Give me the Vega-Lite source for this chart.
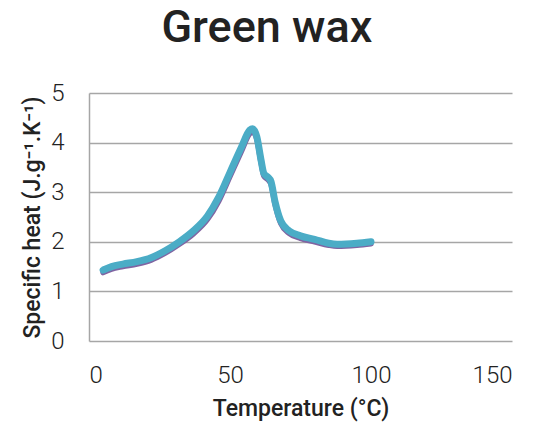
{
  "$schema": "https://vega.github.io/schema/vega-lite/v6.json",
  "width": 423,
  "height": 248,
  "autosize": "none",
  "padding": {"left": 89, "top": 93, "right": 30, "bottom": 90},
  "background": "white",
  "title": {"text": "Green wax", "font": "Roboto", "fontSize": 45, "fontWeight": 500, "color": "#222222", "anchor": "middle", "frame": "bounds", "offset": 30},
  "datasets": {
    "pts": [
      {"t": 5, "cp": 1.43, "s": "a"}, {"t": 8, "cp": 1.50, "s": "a"}, {"t": 12, "cp": 1.55, "s": "a"}, {"t": 17, "cp": 1.60, "s": "a"}, {"t": 22, "cp": 1.68, "s": "a"}, {"t": 27, "cp": 1.82, "s": "a"}, {"t": 32, "cp": 2.00, "s": "a"}, {"t": 37, "cp": 2.22, "s": "a"}, {"t": 42, "cp": 2.52, "s": "a"}, {"t": 46, "cp": 2.90, "s": "a"}, {"t": 50, "cp": 3.40, "s": "a"}, {"t": 54, "cp": 3.90, "s": "a"}, {"t": 57, "cp": 4.25, "s": "a"}, {"t": 58, "cp": 4.28, "s": "a"}, {"t": 59.5, "cp": 4.12, "s": "a"}, {"t": 61, "cp": 3.65, "s": "a"}, {"t": 62, "cp": 3.38, "s": "a"}, {"t": 63.5, "cp": 3.30, "s": "a"}, {"t": 64.5, "cp": 3.22, "s": "a"}, {"t": 66, "cp": 2.80, "s": "a"}, {"t": 68, "cp": 2.42, "s": "a"}, {"t": 71, "cp": 2.22, "s": "a"}, {"t": 75, "cp": 2.12, "s": "a"}, {"t": 80, "cp": 2.05, "s": "a"}, {"t": 85, "cp": 1.97, "s": "a"}, {"t": 88, "cp": 1.95, "s": "a"}, {"t": 95, "cp": 1.97, "s": "a"}, {"t": 100, "cp": 2.00, "s": "a"},
      {"t": 5, "cp": 1.38, "s": "b"}, {"t": 8, "cp": 1.45, "s": "b"}, {"t": 12, "cp": 1.50, "s": "b"}, {"t": 17, "cp": 1.55, "s": "b"}, {"t": 22, "cp": 1.63, "s": "b"}, {"t": 27, "cp": 1.77, "s": "b"}, {"t": 32, "cp": 1.95, "s": "b"}, {"t": 37, "cp": 2.16, "s": "b"}, {"t": 42, "cp": 2.45, "s": "b"}, {"t": 46, "cp": 2.82, "s": "b"}, {"t": 50, "cp": 3.32, "s": "b"}, {"t": 54, "cp": 3.82, "s": "b"}, {"t": 57, "cp": 4.18, "s": "b"}, {"t": 58, "cp": 4.22, "s": "b"}, {"t": 59.5, "cp": 4.07, "s": "b"}, {"t": 61, "cp": 3.60, "s": "b"}, {"t": 62, "cp": 3.33, "s": "b"}, {"t": 63.5, "cp": 3.25, "s": "b"}, {"t": 64.5, "cp": 3.17, "s": "b"}, {"t": 66, "cp": 2.75, "s": "b"}, {"t": 68, "cp": 2.37, "s": "b"}, {"t": 71, "cp": 2.17, "s": "b"}, {"t": 75, "cp": 2.07, "s": "b"}, {"t": 80, "cp": 2.00, "s": "b"}, {"t": 85, "cp": 1.93, "s": "b"}, {"t": 88, "cp": 1.91, "s": "b"}, {"t": 95, "cp": 1.93, "s": "b"}, {"t": 100, "cp": 1.96, "s": "b"}
    ]
  },
  "data": {"name": "pts"},
  "config": {
    "view": {"stroke": null},
    "axis": {"labelFont": "Roboto", "titleFont": "Roboto", "labelColor": "#222222", "titleColor": "#222222", "labelFontWeight": 300}
  },
  "encoding": {
    "x": {"field": "t", "type": "quantitative", "scale": {"domain": [0, 150]}, "axis": {"values": [0, 50, 100, 150], "title": "Temperature (°C)", "titleFontSize": 23, "titleFontWeight": 500, "titlePadding": 10, "labelFontSize": 24, "labelPadding": 22, "ticks": false, "domain": false, "grid": false}},
    "y": {"field": "cp", "type": "quantitative", "scale": {"domain": [0, 5]}, "axis": {"values": [0, 1, 2, 3, 4, 5], "title": "Specific heat (J.g⁻¹.K⁻¹)", "titleFontSize": 23, "titleFontWeight": 500, "titlePadding": 6, "labelFontSize": 24, "labelPadding": 25, "ticks": false, "domain": true, "domainColor": "#a6a6a6", "domainWidth": 1.5, "grid": true, "gridColor": "#a6a6a6", "gridWidth": 1.5}}
  },
  "layer": [
    {
      "transform": [{"filter": "datum.s == 'b'"}],
      "mark": {"type": "line", "interpolate": "monotone", "strokeCap": "round", "strokeJoin": "round", "color": "#8064A2", "strokeWidth": 5.5}
    },
    {
      "transform": [{"filter": "datum.s == 'a'"}],
      "mark": {"type": "line", "interpolate": "monotone", "strokeCap": "round", "strokeJoin": "round", "color": "#4BACC6", "strokeWidth": 7}
    }
  ]
}
